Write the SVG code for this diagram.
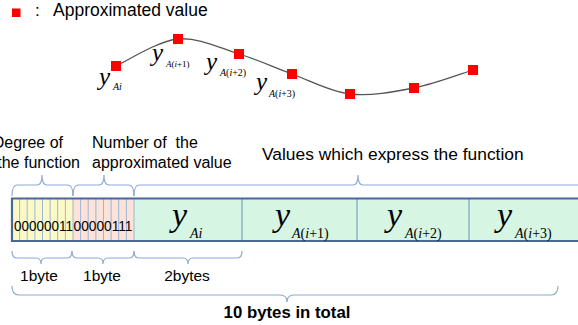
<svg xmlns="http://www.w3.org/2000/svg" width="578" height="325" viewBox="0 0 578 325">
<style>
.sans{font-family:"Liberation Sans",Arial,sans-serif;fill:#000}
.ser{font-family:"Liberation Serif","Times New Roman",serif;fill:#000}
.it{font-style:italic}
.brace{fill:none;stroke:#8eaad6;stroke-width:1.2}
.pt{fill:#ff0000}
.bit{stroke:#9db6d6;stroke-width:1}
.cellline{stroke:#8fb0c8;stroke-width:1.5}
</style>
<rect width="578" height="325" fill="#ffffff"/>

<g id="legend">
  <rect class="pt" x="12" y="8.5" width="8.5" height="8.5"/>
  <text class="sans" x="35" y="16" font-size="17">:</text>
  <text class="sans" x="53" y="16" font-size="17.5">Approximated value</text>
</g>

<g id="connectors">
  <path id="curve" d="M116,66 C126.3,61.5 157.5,41 178,39 C198.5,37 220,48.2 239,54 C258,59.8 273.5,67.3 292,74 C310.5,80.7 329.7,91.7 350,94 C370.3,96.3 393.5,92 414,88 C434.5,84 463.2,73 473,70" fill="none" stroke="#555555" stroke-width="1.3"/>
</g>

<g id="points">
  <rect class="pt" x="111" y="61" width="10" height="10"/>
  <rect class="pt" x="173" y="34" width="10" height="10"/>
  <rect class="pt" x="234" y="49" width="10" height="10"/>
  <rect class="pt" x="287" y="69" width="10" height="10"/>
  <rect class="pt" x="345" y="89" width="10" height="10"/>
  <rect class="pt" x="409" y="83" width="10" height="10"/>
  <rect class="pt" x="468" y="65" width="10" height="10"/>
</g>

<g id="curve-labels">
  <text class="ser it" x="99" y="85" font-size="25">y</text>
  <text class="ser it" x="113" y="90" font-size="10">Ai</text>
  <text class="ser it" x="152" y="61" font-size="25">y</text>
  <text class="ser" x="166" y="67" font-size="9"><tspan class="it">A</tspan>(<tspan class="it">i</tspan>+1)</text>
  <text class="ser it" x="206" y="70" font-size="25">y</text>
  <text class="ser" x="220" y="76" font-size="10"><tspan class="it">A</tspan>(<tspan class="it">i</tspan>+2)</text>
  <text class="ser it" x="256" y="90" font-size="25">y</text>
  <text class="ser" x="269" y="97" font-size="10"><tspan class="it">A</tspan>(<tspan class="it">i</tspan>+3)</text>
</g>

<g id="header-labels">
  <text class="sans" x="63" y="148" font-size="16" text-anchor="end">Degree of</text>
  <text class="sans" x="80" y="168" font-size="16" text-anchor="end">the function</text>
  <text class="sans" x="92" y="148" font-size="16" style="white-space:pre">Number of  the</text>
  <text class="sans" x="92" y="168" font-size="16">approximated value</text>
  <text class="sans" x="262" y="160" font-size="17.4">Values which express the function</text>
</g>

<g id="top-braces">
  <path class="brace" d="M12,196 Q12,185 17,185 L37,185 Q42,185 42,175 Q42,185 47,185 L68,185 Q73,185 73,196"/>
  <path class="brace" d="M73,196 Q73,185 78,185 L99,185 Q104,185 104,175 Q104,185 109,185 L129,185 Q134,185 134,196"/>
  <path class="brace" d="M134,196 Q134,185 139,185 L353,185 Q358,185 358,175 Q358,185 363,185 L585,185"/>
</g>

<g id="table">
  <rect x="12" y="198.5" width="61" height="42.5" fill="#fbfac6"/>
  <rect x="73" y="198.5" width="61" height="42.5" fill="#fbe3da"/>
  <rect x="134" y="198.5" width="450" height="42.5" fill="#d7f5e3"/>
  <g id="bit-lines">
    <line class="bit" x1="19.6" y1="199" x2="19.6" y2="241"/>
    <line class="bit" x1="27.2" y1="199" x2="27.2" y2="241"/>
    <line class="bit" x1="34.9" y1="199" x2="34.9" y2="241"/>
    <line class="bit" x1="42.5" y1="199" x2="42.5" y2="241"/>
    <line class="bit" x1="50.1" y1="199" x2="50.1" y2="241"/>
    <line class="bit" x1="57.7" y1="199" x2="57.7" y2="241"/>
    <line class="bit" x1="65.4" y1="199" x2="65.4" y2="241"/>
    <line class="bit" x1="73" y1="199" x2="73" y2="241"/>
    <line class="bit" x1="80.6" y1="199" x2="80.6" y2="241"/>
    <line class="bit" x1="88.2" y1="199" x2="88.2" y2="241"/>
    <line class="bit" x1="95.9" y1="199" x2="95.9" y2="241"/>
    <line class="bit" x1="103.5" y1="199" x2="103.5" y2="241"/>
    <line class="bit" x1="111.1" y1="199" x2="111.1" y2="241"/>
    <line class="bit" x1="118.7" y1="199" x2="118.7" y2="241"/>
    <line class="bit" x1="126.4" y1="199" x2="126.4" y2="241"/>
    <line class="bit" x1="134" y1="199" x2="134" y2="241"/>
  </g>
  <line class="cellline" x1="242" y1="199" x2="242" y2="241"/>
  <line class="cellline" x1="357" y1="199" x2="357" y2="241"/>
  <line class="cellline" x1="469" y1="199" x2="469" y2="241"/>
  <path d="M590,198.5 L12,198.5 L12,241 L590,241" fill="none" stroke="#4a6894" stroke-width="2.2"/>
  <text class="sans" x="14" y="231" font-size="14" textLength="59" lengthAdjust="spacingAndGlyphs">00000011</text>
  <text class="sans" x="73.5" y="231" font-size="14" textLength="59" lengthAdjust="spacingAndGlyphs">00000111</text>
</g>

<g id="cell-labels">
  <text class="ser it" x="172" y="226" font-size="34">y</text>
  <text class="ser it" x="190" y="238" font-size="14">Ai</text>
  <text class="ser it" x="275" y="226" font-size="34">y</text>
  <text class="ser" x="292" y="238" font-size="14"><tspan class="it">A</tspan>(<tspan class="it">i</tspan>+1)</text>
  <text class="ser it" x="387" y="226" font-size="34">y</text>
  <text class="ser" x="405" y="238" font-size="14"><tspan class="it">A</tspan>(<tspan class="it">i</tspan>+2)</text>
  <text class="ser it" x="497" y="226" font-size="34">y</text>
  <text class="ser" x="515" y="238" font-size="14"><tspan class="it">A</tspan>(<tspan class="it">i</tspan>+3)</text>
</g>

<g id="bottom-braces">
  <path class="brace" d="M12,251 Q12,258 17,258 L36,258 Q41,258 41,264 Q41,258 46,258 L67,258 Q72,258 72,251"/>
  <path class="brace" d="M72,251 Q72,258 77,258 L98,258 Q103,258 103,264 Q103,258 108,258 L129,258 Q134,258 134,251"/>
  <path class="brace" d="M134,251 Q134,258 139,258 L183,258 Q188,258 188,264 Q188,258 193,258 L237,258 Q242,258 242,251"/>
  <path class="brace" d="M12,286 Q12,295 19,295 L280,295 Q287,295 287,302 Q287,295 294,295 L551,295 Q558,295 558,286"/>
</g>

<g id="bottom-labels">
  <text class="sans" x="39" y="281" font-size="15.5" text-anchor="middle">1byte</text>
  <text class="sans" x="102" y="281" font-size="15.5" text-anchor="middle">1byte</text>
  <text class="sans" x="187" y="281" font-size="15.5" text-anchor="middle">2bytes</text>
  <text class="sans" x="287" y="318" font-size="16.8" font-weight="bold" text-anchor="middle">10 bytes in total</text>
</g>
</svg>
